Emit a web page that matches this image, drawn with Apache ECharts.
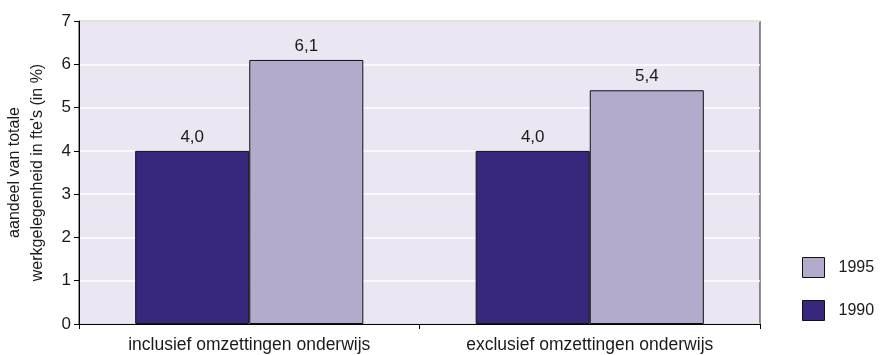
<!DOCTYPE html>
<html>
<head>
<meta charset="utf-8">
<script src="https://cdn.jsdelivr.net/npm/echarts@6/dist/echarts.min.js"></script>
<style>
  html, body { margin: 0; padding: 0; background: #ffffff; }
  #chart { width: 880px; height: 355px; }
</style>
</head>
<body>
<div id="chart"></div>
<script>
// Share of total employment (fte) per category, 1990 vs 1995
const categories = ['inclusief omzettingen onderwijs', 'exclusief omzettingen onderwijs'];
const values1990 = [4.0, 4.0];
const values1995 = [6.1, 5.4];
const yTicks = [0, 1, 2, 3, 4, 5, 6, 7];
const yAxisTitle = 'aandeel van totale\nwerkgelegenheid in fte\'s (in %)';

const FONT = '"Liberation Sans", Arial, sans-serif';
const fmt = v => v.toFixed(1).replace('.', ',');

const chart = echarts.init(document.getElementById('chart'), null, { renderer: 'canvas' });

const valueLabel = {
  show: true,
  position: 'top',
  distance: 5,
  color: '#1a1a1a',
  fontFamily: FONT,
  fontSize: 17,
  formatter: p => fmt(p.value)
};

chart.setOption({
  animation: false,
  textStyle: { fontFamily: FONT },
  grid: {
    left: 79, right: 120, top: 21, bottom: 31,
    outerBoundsMode: 'none',
    containLabel: false,
    show: true,
    backgroundColor: '#ebe6f1',
    borderColor: '#222222',
    borderWidth: 1
  },
  legend: {
    orient: 'vertical',
    left: 802,
    top: 257,
    padding: 0,
    icon: 'rect',
    itemWidth: 22,
    itemHeight: 20,
    itemGap: 22,
    itemStyle: { borderColor: '#111111', borderWidth: 1 },
    textStyle: { fontFamily: FONT, fontSize: 16, color: '#1a1a1a', padding: [0, 0, 0, 9] },
    data: ['1995', '1990']
  },
  xAxis: {
    type: 'category',
    data: categories,
    boundaryGap: true,
    axisLine: { lineStyle: { color: '#000000', width: 1 } },
    axisTick: { show: true, length: 5, lineStyle: { color: '#000000' } },
    axisLabel: { color: '#1a1a1a', fontSize: 17.5, margin: 12, fontFamily: FONT },
    splitLine: { show: false }
  },
  yAxis: {
    type: 'value',
    min: yTicks[0],
    max: yTicks[yTicks.length - 1],
    interval: 1,
    name: yAxisTitle,
    nameLocation: 'middle',
    nameGap: 30,
    nameTextStyle: { fontSize: 16, color: '#1a1a1a', lineHeight: 23, fontFamily: FONT },
    axisLine: { show: true, lineStyle: { color: '#000000', width: 1 } },
    axisTick: { show: true, length: 5, lineStyle: { color: '#000000' } },
    axisLabel: { color: '#1a1a1a', fontSize: 17, margin: 8, fontFamily: FONT },
    splitLine: { show: true, lineStyle: { color: '#ffffff', width: 1.5 } }
  },
  series: [
    {
      name: '1990',
      type: 'bar',
      data: values1990,
      barGap: '0%',
      barCategoryGap: '33%',
      itemStyle: { color: '#39277d', borderColor: '#111111', borderWidth: 1 },
      label: valueLabel
    },
    {
      name: '1995',
      type: 'bar',
      data: values1995,
      barGap: '0%',
      barCategoryGap: '33%',
      itemStyle: { color: '#b3aacc', borderColor: '#111111', borderWidth: 1 },
      label: valueLabel
    }
  ]
});
</script>
</body>
</html>
